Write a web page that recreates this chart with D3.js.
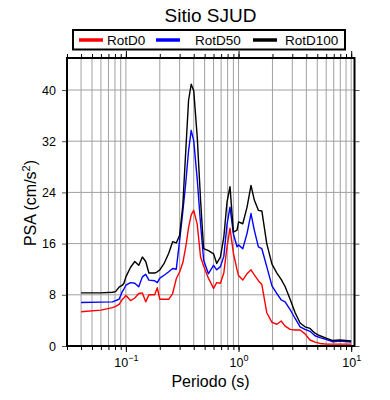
<!DOCTYPE html>
<html>
<head>
<meta charset="utf-8">
<script src="https://cdn.jsdelivr.net/npm/d3@7"></script>
<style>
	body { margin: 0; background: #fff; }
	text { font-family: "Liberation Sans", Arial, sans-serif; }
</style>
</head>
<body>
<div id="chart"></div>
<script>
// spectral data
var periods = [0.040, 0.060, 0.076, 0.081, 0.087, 0.093, 0.096, 0.10, 0.11, 0.12,
	0.13, 0.14, 0.15, 0.16, 0.18, 0.19, 0.20, 0.22, 0.24, 0.26,
	0.28, 0.30, 0.32, 0.34, 0.36, 0.38, 0.40, 0.43, 0.46, 0.49,
	0.54, 0.60, 0.64, 0.69, 0.74, 0.79, 0.84, 0.90, 0.97, 1.0,
	1.09, 1.19, 1.29, 1.38, 1.50, 1.61, 1.78, 1.98, 2.19, 2.39,
	2.59, 2.87, 3.18, 3.52, 3.89, 4.31, 4.77, 5.28, 6.06, 6.89,
	7.94, 10.0];
var rotD0 = [5.35, 5.6, 6.0, 6.2, 6.5, 7.3, 7.5, 7.9, 7.1, 7.5,
	8.2, 8.3, 6.9, 8.0, 8.0, 9.1, 7.3, 7.3, 7.3, 8.2,
	10.5, 11.6, 13.0, 15.5, 18.5, 20.5, 21.2, 19.0, 13.9, 12.5,
	10.6, 9.0, 9.9, 9.8, 11.4, 15.5, 18.4, 14.5, 11.9, 11.0,
	10.3, 11.3, 11.9, 11.1, 10.2, 9.6, 5.2, 3.7, 3.4, 3.9,
	3.1, 2.6, 2.5, 2.5, 1.9, 0.94, 0.6, 0.4, 0.3, 0.3,
	0.3, 0.3];
var rotD50 = [6.8, 6.85, 6.9, 7.1, 7.3, 8.5, 8.9, 9.5, 9.9, 9.8,
	9.25, 10.8, 11.2, 10.3, 10.2, 9.9, 10.6, 11.1, 11.6, 12.1,
	12.0, 16.5, 21.0, 25.5, 30.5, 33.7, 32.1, 26.0, 19.1, 13.4,
	11.3, 12.6, 11.9, 12.4, 14.0, 19.0, 21.7, 17.5, 15.5, 15.8,
	15.2, 17.6, 20.7, 18.1, 15.5, 15.2, 12.4, 9.4, 8.2, 7.2,
	6.9, 5.7, 4.3, 3.0, 2.6, 2.3, 1.6, 1.3, 1.0, 0.67,
	0.78, 0.62];
var rotD100 = [8.3, 8.3, 8.4, 8.5, 9.2, 9.5, 9.8, 10.8, 12.3, 13.2,
	12.6, 13.9, 13.2, 11.4, 11.4, 11.6, 11.9, 13.0, 14.5, 16.3,
	16.1, 17.3, 22.0, 30.5, 38.4, 40.9, 39.9, 32.6, 22.8, 15.2,
	14.9, 14.4, 12.9, 13.9, 17.0, 22.5, 24.9, 17.8, 18.1, 19.4,
	19.1, 21.7, 25.1, 22.8, 21.2, 21.1, 16.0, 12.8, 11.4, 10.4,
	9.3, 7.3, 5.2, 3.6, 3.0, 2.75, 2.0, 1.6, 1.2, 0.85,
	0.94, 0.78];

var seriesNames = ["RotD0", "RotD50", "RotD100"];
var seriesColors = ["#ff0000", "#0000ff", "#000000"];
var yTicks = [0, 8, 16, 24, 32, 40];
var xMajorTicks = [0.1, 1, 10];
var xExponents = ["\u22121", "0", "1"];

drawChart();

function drawChart() {
	var margin = {top: 58, left: 67},
		width = 287.5,
		height = 288,
		gridColor = "#a0a0a0";

	var svg = d3.select("#chart")
		.append("svg")
		.attr("width", 390)
		.attr("height", 400);

	var x = d3.scaleLog().domain([0.03, 10.7]).range([0, width]);
	var y = d3.scaleLinear().domain([0, 45]).range([height, 0]);

	var g = svg.append("g")
		.attr("transform", "translate(" + margin.left + "," + margin.top + ")");

	// grid
	g.append("g").selectAll("line")
		.data(x.ticks())
		.enter().append("line")
		.attr("x1", function(d) { return x(d); })
		.attr("x2", function(d) { return x(d); })
		.attr("y1", 0)
		.attr("y2", height)
		.attr("stroke", gridColor)
		.attr("stroke-width", 1);

	g.append("g").selectAll("line")
		.data(yTicks.slice(1))
		.enter().append("line")
		.attr("x1", 0)
		.attr("x2", width)
		.attr("y1", function(d) { return y(d); })
		.attr("y2", function(d) { return y(d); })
		.attr("stroke", gridColor)
		.attr("stroke-width", 1);

	// curves
	var series = [rotD0, rotD50, rotD100];
	var line = d3.line()
		.x(function(d, i) { return x(periods[i]); })
		.y(function(d) { return y(d); });

	g.selectAll("path.curve")
		.data(series)
		.enter().append("path")
		.attr("class", "curve")
		.attr("fill", "none")
		.attr("stroke", function(d, i) { return seriesColors[i]; })
		.attr("stroke-width", 1.4)
		.attr("stroke-linejoin", "round")
		.attr("d", line);

	// axes ticks
	function noDomain(sel) { sel.select(".domain").remove(); }

	g.append("g")
		.call(d3.axisTop(x).tickValues(x.ticks()).tickSize(4).tickFormat(""))
		.call(noDomain);
	g.append("g")
		.call(d3.axisTop(x).tickValues(xMajorTicks).tickSize(7).tickFormat(""))
		.call(noDomain);
	g.append("g")
		.attr("transform", "translate(0," + height + ")")
		.call(d3.axisBottom(x).tickValues(x.ticks()).tickSize(4).tickFormat(""))
		.call(noDomain);

	var xb = g.append("g")
		.attr("transform", "translate(0," + height + ")")
		.call(d3.axisBottom(x).tickValues(xMajorTicks).tickSize(6).tickPadding(4).tickFormat(""))
		.call(noDomain);

	xb.selectAll(".tick text").remove();
	xb.selectAll(".tick").append("text")
		.attr("y", 21)
		.attr("fill", "#000")
		.attr("font-size", "12.5px")
		.attr("text-anchor", "middle")
		.each(function(d, i) {
			var t = d3.select(this);
			t.append("tspan").text("10");
			t.append("tspan")
				.attr("dy", -6)
				.attr("font-size", "9px")
				.text(xExponents[i]);
		});

	var yl = g.append("g")
		.call(d3.axisLeft(y).tickValues(yTicks).tickSize(5).tickPadding(6))
		.call(noDomain);
	yl.selectAll(".tick line").attr("stroke", "#555");
	yl.selectAll(".tick text")
		.attr("font-size", "12.5px")
		.attr("fill", "#000");

	g.append("g")
		.attr("transform", "translate(" + width + ",0)")
		.call(d3.axisRight(y).tickValues(yTicks).tickSize(5).tickFormat(""))
		.call(noDomain)
		.selectAll(".tick line").attr("stroke", "#555");

	// frame
	g.append("rect")
		.attr("x", 0)
		.attr("y", 0)
		.attr("width", width)
		.attr("height", height)
		.attr("fill", "none")
		.attr("stroke", "#000")
		.attr("stroke-width", 2);

	// labels
	svg.append("text")
		.attr("x", 210.5)
		.attr("y", 22)
		.attr("text-anchor", "middle")
		.attr("font-size", "19px")
		.text("Sitio SJUD");

	svg.append("text")
		.attr("x", 210.5)
		.attr("y", 387)
		.attr("text-anchor", "middle")
		.attr("font-size", "16px")
		.text("Periodo (s)");

	var ylab = svg.append("text")
		.attr("transform", "translate(36,203) rotate(-90)")
		.attr("text-anchor", "middle")
		.attr("font-size", "16px");
	ylab.append("tspan").text("PSA (cm/s");
	ylab.append("tspan").attr("dy", -6).attr("font-size", "11px").text("2");
	ylab.append("tspan").attr("dy", 6).text(")");

	// legend
	var legend = svg.append("g");
	legend.append("rect")
		.attr("x", 73)
		.attr("y", 30)
		.attr("width", 272)
		.attr("height", 19.5)
		.attr("fill", "#fff")
		.attr("stroke", "#000")
		.attr("stroke-width", 2);

	var legendX = [79, 156, 253],
		textX = [107, 195, 285];

	legend.selectAll("line.key")
		.data(seriesNames)
		.enter().append("line")
		.attr("class", "key")
		.attr("x1", function(d, i) { return legendX[i]; })
		.attr("x2", function(d, i) { return legendX[i] + 24; })
		.attr("y1", 40)
		.attr("y2", 40)
		.attr("stroke", function(d, i) { return seriesColors[i]; })
		.attr("stroke-width", 3.5);

	legend.selectAll("text.key")
		.data(seriesNames)
		.enter().append("text")
		.attr("class", "key")
		.attr("x", function(d, i) { return textX[i]; })
		.attr("y", 44.5)
		.attr("font-size", "13.5px")
		.text(function(d) { return d; });
}
</script>
</body>
</html>
